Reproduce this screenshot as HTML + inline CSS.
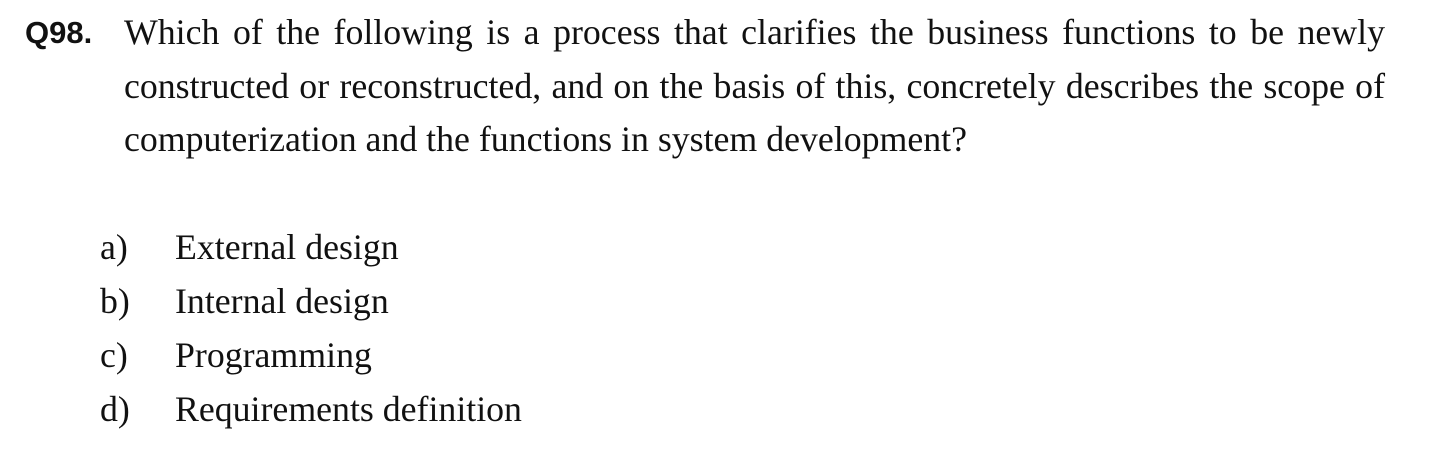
<!DOCTYPE html>
<html><head><style>
body{margin:0;width:1450px;height:458px;background:#fff;position:relative;overflow:hidden;font-family:"Liberation Serif",serif;color:#111;}
.l{position:absolute;font-size:35.8px;white-space:nowrap;line-height:40px;}
.q{position:absolute;left:25px;top:13px;font-family:"Liberation Sans",sans-serif;font-weight:bold;font-size:31px;line-height:40px;}
.j{width:1261px;text-align:justify;text-align-last:justify;}
</style></head><body>
<div class="q">Q98.</div>
<div class="l j" style="left:124px;top:12px;">Which of the following is a process that clarifies the business functions to be newly</div>
<div class="l j" style="left:124px;top:66px;">constructed or reconstructed, and on the basis of this, concretely describes the scope of</div>
<div class="l" style="left:124px;top:119px;">computerization and the functions in system development?</div>
<div class="l" style="left:100px;top:227px;">a)</div><div class="l" style="left:175px;top:227px;">External design</div>
<div class="l" style="left:100px;top:281px;">b)</div><div class="l" style="left:175px;top:281px;">Internal design</div>
<div class="l" style="left:100px;top:335px;">c)</div><div class="l" style="left:175px;top:335px;">Programming</div>
<div class="l" style="left:100px;top:389px;">d)</div><div class="l" style="left:175px;top:389px;">Requirements definition</div>
</body></html>
